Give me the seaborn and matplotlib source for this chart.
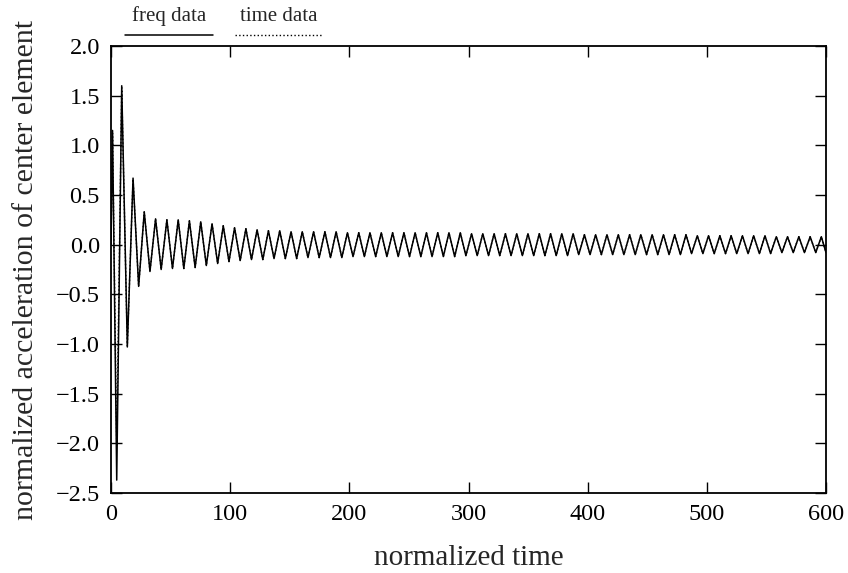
import numpy as np
import pandas as pd
import matplotlib
matplotlib.use("Agg")
import matplotlib.pyplot as plt
import seaborn as sns
from matplotlib.offsetbox import VPacker

# ---------------- data (extrema) ----------------
# sample times (normalized time) of the start point, the extrema and the end
sample_t = [0.0, 1.3, 4.8,
            9.0, 13.7, 18.5, 23.2, 27.9, 32.7, 37.4, 42.1, 46.9, 51.6,
            56.4, 61.1, 65.8, 70.6, 75.3, 80.0, 84.8, 89.5, 94.2, 99.0,
            103.7, 108.4, 113.2, 117.9, 122.6, 127.4, 132.1, 136.8, 141.6, 146.3,
            151.1, 155.8, 160.5, 165.3, 170.0, 174.7, 179.5, 184.2, 188.9, 193.7,
            198.4, 203.1, 207.9, 212.6, 217.3, 222.1, 226.8, 231.5, 236.3, 241.0,
            245.8, 250.5, 255.2, 260.0, 264.7, 269.4, 274.2, 278.9, 283.6, 288.4,
            293.1, 297.8, 302.6, 307.3, 312.0, 316.8, 321.5, 326.2, 331.0, 335.7,
            340.5, 345.2, 349.9, 354.7, 359.4, 364.1, 368.9, 373.6, 378.3, 383.1,
            387.8, 392.5, 397.3, 402.0, 406.7, 411.5, 416.2, 421.0, 425.7, 430.4,
            435.2, 439.9, 444.6, 449.4, 454.1, 458.8, 463.6, 468.3, 473.0, 477.8,
            482.5, 487.2, 492.0, 496.7, 501.4, 506.2, 510.9, 515.7, 520.4, 525.1,
            529.9, 534.6, 539.3, 544.1, 548.8, 553.5, 558.3, 563.0, 567.7, 572.5,
            577.2, 581.9, 586.7, 591.4, 596.1, 600.0]

# freq data: first extrema
freq_early = [0.0, 1.15, -2.37,
              1.60, -1.03, 0.67, -0.42, 0.33, -0.27, 0.26, -0.25, 0.25, -0.24,
              0.25, -0.24, 0.24, -0.23, 0.23, -0.21, 0.21, -0.19, 0.19, -0.17]
# time data: first extrema
time_early = [0.0, 1.12, -2.02,
              1.58, -1.02, 0.66, -0.42, 0.33, -0.27, 0.26, -0.25, 0.25, -0.24,
              0.25, -0.24, 0.24, -0.23, 0.23, -0.21, 0.21, -0.19, 0.19, -0.17]
# shared later extrema (100 .. 600)
later = [0.17, -0.16, 0.16, -0.15, 0.15, -0.15, 0.14, -0.14, 0.14, -0.14,
         0.13, -0.14, 0.13, -0.13, 0.13, -0.13, 0.13, -0.13, 0.13, -0.13,
         0.12, -0.12, 0.12, -0.12, 0.12, -0.12, 0.12, -0.12, 0.12, -0.12,
         0.12, -0.12, 0.12, -0.12, 0.12, -0.12, 0.12, -0.12, 0.12, -0.12,
         0.12, -0.11, 0.11, -0.11, 0.11, -0.11, 0.11, -0.11, 0.11, -0.11,
         0.11, -0.11, 0.11, -0.11, 0.11, -0.11, 0.11, -0.11, 0.11, -0.11,
         0.11, -0.10, 0.10, -0.10, 0.10, -0.10, 0.10, -0.10, 0.10, -0.10,
         0.10, -0.10, 0.10, -0.10, 0.10, -0.10, 0.10, -0.10, 0.10, -0.10,
         0.10, -0.09, 0.09, -0.09, 0.09, -0.09, 0.09, -0.09, 0.09, -0.09,
         0.09, -0.09, 0.09, -0.09, 0.09, -0.09, 0.08, -0.08, 0.08, -0.08,
         0.08, -0.08, 0.08, -0.08, 0.08, -0.08]

freq_y = freq_early + later
time_y = time_early + later

x_ticks = [0, 100, 200, 300, 400, 500, 600]
y_ticks = [-2.5, -2.0, -1.5, -1.0, -0.5, 0.0, 0.5, 1.0, 1.5, 2.0]

# ---------------- style ----------------
sns.set_style("ticks")
plt.rcParams['font.family'] = ['Liberation Serif', 'DejaVu Serif']
plt.rcParams['axes.unicode_minus'] = True

fig = plt.figure(figsize=(8.48, 5.73), dpi=100)
ax = fig.add_axes([111 / 848, 1 - 493 / 573, (826 - 111) / 848, (493 - 46) / 573])

df = pd.DataFrame({
    "t": sample_t * 2,
    "y": freq_y + time_y,
    "series": ["freq data"] * len(sample_t) + ["time data"] * len(sample_t),
})

sns.lineplot(data=df[df.series == "freq data"], x="t", y="y", ax=ax,
             color="black", lw=1.1, sort=False, estimator=None,
             label="freq data")
sns.lineplot(data=df[df.series == "time data"], x="t", y="y", ax=ax,
             color="black", lw=1.0, ls=":", sort=False, estimator=None,
             label="time data")

ax.set_xlim(0, 600)
ax.set_ylim(-2.5, 2.0)
ax.set_xticks(x_ticks)
ax.set_yticks(y_ticks)
ax.set_yticklabels([f"{v:.1f}".replace("-", "\u2212") for v in y_ticks])
ax.tick_params(direction="in", length=8, width=1.0, top=True, right=True,
               labelsize=17.5, pad=8, colors="black")
for s in ax.spines.values():
    s.set_linewidth(1.3)
    s.set_color("black")

ax.set_xlabel("normalized time", fontsize=21, labelpad=14)
ax.set_ylabel("normalized acceleration of center element", fontsize=21.5,
              labelpad=12)

leg = ax.legend(loc="lower left", bbox_to_anchor=(0.008, 0.99), ncol=2,
                frameon=False, fontsize=15, handlelength=4.2,
                columnspacing=1.1, borderaxespad=0.2, borderpad=0.2)
# put each legend label above its line sample
for col in leg._legend_handle_box.get_children():
    items = []
    for item in col.get_children():
        h, t = item.get_children()
        vp = VPacker(pad=0, sep=1, align="center", children=[t, h])
        vp.set_figure(fig)
        items.append(vp)
    col._children = items

fig.savefig("out.png", dpi=100)
